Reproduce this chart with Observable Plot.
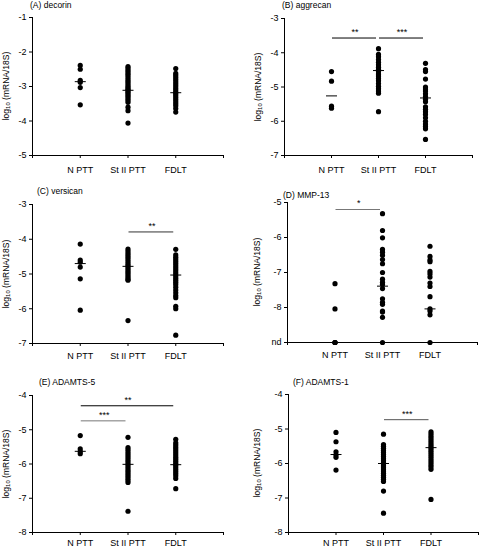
<!DOCTYPE html>
<html><head><meta charset="utf-8">
<script src="https://cdn.jsdelivr.net/npm/d3@7"></script>
<script src="https://cdn.jsdelivr.net/npm/@observablehq/plot@0.6"></script>
<style>
body{margin:0;background:#fff;font-family:"Liberation Sans",Arial,sans-serif;}
#wrap{position:relative;width:480px;height:550px;overflow:hidden;background:#fff;}
.panel{position:absolute;}
.title{position:absolute;font-size:8.5px;line-height:10px;white-space:nowrap;color:#000;}
.ylab{position:absolute;font-size:8.5px;line-height:10px;white-space:nowrap;color:#000;transform:translate(-50%,-50%) rotate(-90deg);}
.ylab sub{font-size:6px;vertical-align:-1px;}
</style></head><body><div id="wrap"></div>
<script>
const categories = ["N PTT", "St II PTT", "FDLT"];

// (A) decorin
const decorinN = [-2.39, -2.5, -2.82, -2.88, -3.03, -3.53];
const decorinSt = [-2.42, -2.47, -2.53, -2.58, -2.63, -2.68, -2.74, -2.8, -2.85, -2.9, -2.95, -3.0, -3.04, -3.08, -3.12, -3.16, -3.2, -3.25, -3.3, -3.35, -3.4, -3.46, -3.6, -3.7, -4.06];
const decorinF = [-2.48, -2.62, -2.68, -2.74, -2.8, -2.86, -2.92, -2.98, -3.04, -3.1, -3.16, -3.2, -3.26, -3.32, -3.38, -3.44, -3.5, -3.56, -3.64, -3.74];
const decorinMedians = [-2.86, -3.11, -3.18];

// (B) aggrecan
const aggrecanN = [-4.55, -4.83, -5.56, -5.62];
const aggrecanSt = [-3.88, -4.05, -4.12, -4.2, -4.28, -4.35, -4.42, -4.48, -4.55, -4.62, -4.68, -4.75, -4.82, -4.9, -4.98, -5.05, -5.12, -5.18, -5.72];
const aggrecanF = [-4.31, -4.49, -4.55, -4.77, -5.0, -5.06, -5.12, -5.2, -5.28, -5.36, -5.43, -5.58, -5.65, -5.72, -5.8, -5.9, -6.0, -6.08, -6.15, -6.22, -6.53];
const aggrecanMedians = [-5.26, -4.52, -5.32];
const aggrecanSig = [{from: 1, to: 2, y: -3.57, label: "**"}, {from: 2, to: 3, y: -3.57, label: "***"}];

// (C) versican
const versicanN = [-4.14, -4.6, -4.66, -4.8, -5.14, -6.04];
const versicanSt = [-4.28, -4.34, -4.4, -4.46, -4.52, -4.58, -4.64, -4.7, -4.75, -4.8, -4.85, -4.9, -4.95, -5.0, -5.05, -5.1, -5.15, -5.18, -6.34];
const versicanF = [-4.29, -4.45, -4.52, -4.58, -4.64, -4.7, -4.76, -4.82, -4.88, -4.94, -5.0, -5.06, -5.12, -5.18, -5.24, -5.3, -5.38, -5.46, -5.54, -5.62, -5.68, -5.93, -6.0, -6.76];
const versicanMedians = [-4.7, -4.78, -5.03];
const versicanSig = [{from: 2, to: 3, y: -3.79, label: "**"}];

// (D) MMP-13  (nd plotted at -9)
const mmp13N = [-7.32, -8.04, -9, -9, -9];
const mmp13St = [-5.32, -5.8, -6.01, -6.34, -6.42, -6.51, -6.63, -6.75, -7.0, -7.19, -7.28, -7.34, -7.46, -7.75, -7.85, -7.91, -8.1, -8.13, -8.28, -9];
const mmp13F = [-6.25, -6.54, -6.64, -6.69, -6.97, -7.04, -7.13, -7.3, -7.4, -7.69, -8.04, -8.1, -8.21, -9];
const mmp13Medians = [-9, -7.39, -8.04];
const mmp13Sig = [{from: 1, to: 2, y: -5.2, label: "*"}];

// (E) ADAMTS-5
const adamts5N = [-5.17, -5.56, -5.64, -5.7];
const adamts5St = [-5.22, -5.52, -5.58, -5.64, -5.7, -5.76, -5.82, -5.88, -5.94, -6.0, -6.06, -6.12, -6.18, -6.24, -6.3, -6.36, -6.42, -6.48, -6.54, -7.38];
const adamts5F = [-5.28, -5.38, -5.44, -5.5, -5.56, -5.62, -5.68, -5.74, -5.8, -5.86, -5.92, -5.98, -6.04, -6.1, -6.16, -6.22, -6.28, -6.34, -6.42, -6.72];
const adamts5Medians = [-5.63, -6.01, -6.02];
const adamts5Sig = [{from: 1, to: 3, y: -4.3, label: "**"}, {from: 1, to: 2, y: -4.74, label: "***"}];

// (F) ADAMTS-1
const adamts1N = [-5.1, -5.37, -5.66, -5.75, -5.82, -6.19];
const adamts1St = [-5.15, -5.45, -5.5, -5.56, -5.62, -5.68, -5.74, -5.8, -5.86, -5.92, -5.98, -6.04, -6.1, -6.16, -6.22, -6.28, -6.34, -6.4, -6.46, -6.52, -6.8, -7.44];
const adamts1F = [-5.08, -5.14, -5.2, -5.26, -5.32, -5.38, -5.44, -5.5, -5.56, -5.62, -5.68, -5.74, -5.8, -5.86, -5.92, -5.98, -6.04, -6.1, -6.17, -7.04];
const adamts1Medians = [-5.74, -6.0, -5.54];
const adamts1Sig = [{from: 2, to: 3, y: -4.73, label: "***"}];

const panels = [
  {title: "(A) decorin", groups: [decorinN, decorinSt, decorinF], medians: decorinMedians, sig: [], sigStroke: [],
   yDomain: [-5, -1], yTicks: [-1, -2, -3, -4, -5], nd: false,
   left: 0, top: 0, h: 183, ml: 32, mr: 17, mt: 17, mb: 28, xpad: 8, tx: 30, ty: 0, lx: 7},
  {title: "(B) aggrecan", groups: [aggrecanN, aggrecanSt, aggrecanF], medians: aggrecanMedians, sig: aggrecanSig, sigStroke: ["#000", "#000"],
   yDomain: [-7, -3], yTicks: [-3, -4, -5, -6, -7], nd: false,
   left: 240, top: 0, h: 183, ml: 44, mr: 8, mt: 18, mb: 28, xpad: 8, tx: 42, ty: 0, lx: 19},
  {title: "(C) versican", groups: [versicanN, versicanSt, versicanF], medians: versicanMedians, sig: versicanSig, sigStroke: ["#333"],
   yDomain: [-7, -3], yTicks: [-3, -4, -5, -6, -7], nd: false,
   left: 0, top: 183, h: 182, ml: 32, mr: 17, mt: 21, mb: 22, xpad: 6, tx: 37, ty: 3, lx: 7},
  {title: "(D) MMP-13", groups: [mmp13N, mmp13St, mmp13F], medians: mmp13Medians, sig: mmp13Sig, sigStroke: ["#777"],
   yDomain: [-9, -5], yTicks: [-5, -6, -7, -8, -9], nd: true,
   left: 240, top: 183, h: 182, ml: 47, mr: 3, mt: 19, mb: 23, xpad: 6, tx: 43, ty: 7, lx: 18},
  {title: "(E) ADAMTS-5", groups: [adamts5N, adamts5St, adamts5F], medians: adamts5Medians, sig: adamts5Sig, sigStroke: ["#000", "#777"],
   yDomain: [-8, -4], yTicks: [-4, -5, -6, -7, -8], nd: false,
   left: 0, top: 365, h: 185, ml: 32, mr: 17, mt: 30, mb: 18, xpad: 4, tx: 39, ty: 12, lx: 7},
  {title: "(F) ADAMTS-1", groups: [adamts1N, adamts1St, adamts1F], medians: adamts1Medians, sig: adamts1Sig, sigStroke: ["#555"],
   yDomain: [-8, -4], yTicks: [-4, -5, -6, -7, -8], nd: false,
   left: 240, top: 365, h: 185, ml: 48, mr: 2, mt: 29, mb: 18, xpad: 4, tx: 53, ty: 12, lx: 18}
];

const hline = {draw(ctx, size) { const r = Math.sqrt(size / Math.PI); ctx.moveTo(-r, 0); ctx.lineTo(r, 0); }};

const wrap = document.getElementById("wrap");
for (const p of panels) {
  const pts = [];
  p.groups.forEach((arr, i) => arr.forEach(v => pts.push({x: i + 1, y: v})));
  const meds = p.medians.map((v, i) => ({x: i + 1, y: v}));
  const sigMarks = p.sig.flatMap((s, i) => [
    Plot.ruleY([s], {y: "y", x1: "from", x2: "to", stroke: p.sigStroke[i], strokeWidth: 1, insetLeft: 1, insetRight: 2}),
    Plot.text([s], {x: d => (d.from + d.to) / 2, y: "y", text: "label", dy: -6, fontSize: 9, fill: "#000"})
  ]);
  const chart = Plot.plot({
    width: 240, height: p.h,
    marginLeft: p.ml, marginRight: p.mr, marginTop: p.mt, marginBottom: p.mb,
    style: {fontFamily: '"Liberation Sans", Arial, sans-serif', fontSize: "9px", color: "#000", background: "transparent", overflow: "visible"},
    x: {domain: [0, 4]},
    y: {domain: p.yDomain},
    marks: [
      Plot.axisY({ticks: p.yTicks, tickSize: 3, tickPadding: 3, label: null,
        tickFormat: d => (p.nd && d === p.yDomain[0]) ? "nd" : String(d)}),
      Plot.axisX({ticks: [0, 1, 2, 3, 4], tickSize: 3, tickPadding: p.xpad, label: null,
        tickFormat: d => categories[d - 1] ?? ""}),
      Plot.ruleX([0], {stroke: "#000"}),
      Plot.ruleY([p.yDomain[0]], {stroke: "#000"}),
      ...sigMarks,
      Plot.dot(pts, {x: "x", y: "y", r: 2.6, fill: "#000", stroke: "none"}),
      Plot.dot(meds, {x: "x", y: "y", r: 5.5, symbol: hline, fill: "none", stroke: "#000", strokeWidth: 1})
    ]
  });
  const div = document.createElement("div");
  div.className = "panel";
  div.style.left = p.left + "px";
  div.style.top = p.top + "px";
  div.style.width = "240px";
  div.style.height = p.h + "px";
  chart.style.position = "absolute";
  chart.style.left = "0px";
  chart.style.top = "0px";
  div.appendChild(chart);
  const t = document.createElement("div");
  t.className = "title";
  t.style.left = p.tx + "px";
  t.style.top = p.ty + "px";
  t.textContent = p.title;
  div.appendChild(t);
  const yl = document.createElement("div");
  yl.className = "ylab";
  yl.style.left = p.lx + "px";
  yl.style.top = (p.mt + (p.h - p.mt - p.mb) / 2) + "px";
  yl.innerHTML = "log<sub>10</sub> (mRNA/18S)";
  div.appendChild(yl);
  wrap.appendChild(div);
}
</script>
</body></html>
